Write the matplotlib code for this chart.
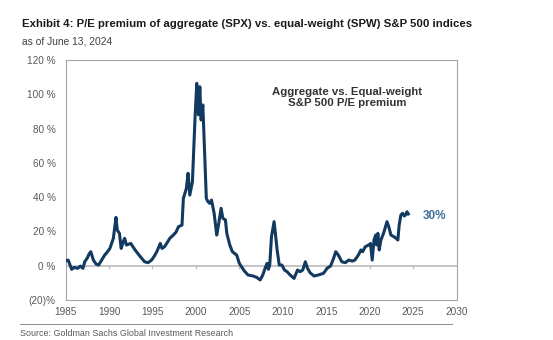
import matplotlib
matplotlib.use("Agg")
import matplotlib.pyplot as plt
from matplotlib.lines import Line2D

plt.rcParams['font.family'] = ['Liberation Sans', 'DejaVu Sans']

# P/E premium of SPX vs SPW (%)
years = [
    1985.0, 1985.3, 1985.7, 1986.0, 1986.4, 1986.7, 1987.0, 1987.2, 1987.5,
    1987.7, 1987.9, 1988.2, 1988.5, 1988.8, 1989.1, 1989.5, 1989.8, 1990.1,
    1990.5, 1990.8, 1990.95, 1991.2, 1991.4, 1991.6, 1991.8, 1992.0, 1992.5,
    1993.0, 1993.6, 1994.1, 1994.5, 1994.9, 1995.2, 1995.5, 1995.9, 1996.1,
    1996.4, 1996.7, 1997.0, 1997.4, 1997.7, 1998.0, 1998.4, 1998.56, 1998.9,
    1999.1, 1999.3, 1999.6, 1999.9, 2000.1, 2000.2, 2000.3, 2000.45, 2000.6,
    2000.8, 2001.0, 2001.2, 2001.4, 2001.6, 2001.8, 2002.1, 2002.4, 2002.6,
    2002.9, 2003.1, 2003.4, 2003.56, 2003.9, 2004.2, 2004.7, 2005.0, 2005.55,
    2006.0, 2006.6, 2007.0, 2007.4, 2007.7, 2008.0, 2008.2, 2008.35, 2008.5,
    2008.7, 2009.0, 2009.15, 2009.35, 2009.6, 2009.9, 2010.2, 2010.5, 2010.85,
    2011.3, 2011.7, 2012.0, 2012.3, 2012.6, 2012.85, 2013.15, 2013.6, 2014.1,
    2014.7, 2015.1, 2015.5, 2015.85, 2016.1, 2016.4, 2016.8, 2017.2, 2017.6,
    2018.0, 2018.3, 2018.7, 2019.0, 2019.2, 2019.5, 2019.9, 2020.1, 2020.3,
    2020.5, 2020.7, 2020.8, 2020.95, 2021.1, 2021.3, 2021.6, 2022.0, 2022.2,
    2022.45, 2022.8, 2023.05, 2023.25, 2023.4, 2023.6, 2023.8, 2024.0, 2024.2,
    2024.3, 2024.45,
]
premium = [
    2.9, 3.3, -2.1, -1.0, -1.5, -0.2, -1.5, 2.3, 4.5,
    6.8, 8.2, 3.3, 1.0, 0.4, 2.9, 6.2, 8.0, 10.1,
    16.0, 28.2, 20.8, 18.9, 10.1, 13.5, 16.0, 12.1, 13.0,
    9.2, 5.3, 2.3, 1.8, 3.3, 5.5, 8.2, 13.0, 10.1,
    11.1, 13.5, 16.0, 17.9, 19.5, 22.8, 23.7, 39.3, 45.0,
    53.9, 41.2, 49.0, 86.0, 106.4, 95.0, 88.0, 104.4, 85.0,
    93.8, 66.5, 39.3, 37.3, 36.4, 38.3, 30.6, 17.9, 23.7,
    33.5, 27.7, 26.7, 18.9, 12.1, 8.2, 6.2, 1.4, -2.9,
    -5.4, -6.0, -6.8, -8.3, -5.4, -1.0, 1.4, -2.1, 0.4,
    16.9, 25.7, 18.9, 9.2, 0.4, 0.4, -2.5, -3.5, -5.4,
    -7.4, -2.5, -3.5, -2.5, 2.3, -1.5, -4.1, -6.0, -5.4,
    -4.4, -1.5, -0.2, 4.3, 8.2, 6.2, 2.3, 1.8, 3.3,
    2.7, 3.3, 6.2, 9.2, 8.2, 11.1, 12.1, 13.0, 3.3,
    15.0, 17.9, 12.1, 18.9, 9.2, 15.0, 18.9, 25.7, 22.8,
    17.9, 16.9, 16.0, 15.0, 23.7, 29.6, 30.6, 29.0, 30.2,
    31.5, 30.2,
]
x_ticks = list(range(1985, 2031, 5))
y_ticks = [-20, 0, 20, 40, 60, 80, 100, 120]
y_labels = ['(20)%', '0 %', '20 %', '40 %', '60 %', '80 %', '100 %', '120 %']
last_label = '30%'

navy = '#12395f'
grey_txt = '#595959'

fig = plt.figure(figsize=(5.53, 3.40), dpi=100)
ax = fig.add_axes([0.1186, 0.1176, 0.7069, 0.7059])

ax.axhline(0, color='#bfbfbf', lw=1.3, zorder=1)
ax.vlines(x_ticks[1:-1], -1.8, 0, color='#bfbfbf', lw=0.9, zorder=1)
ax.plot(years, premium, color=navy, lw=2.2, solid_joinstyle='round', zorder=3)

ax.set_xlim(1985, 2030)
ax.set_ylim(-20, 120)
ax.set_xticks(x_ticks)
ax.set_xticklabels([str(y) for y in x_ticks])
ax.set_yticks(y_ticks)
ax.set_yticklabels(y_labels)
ax.tick_params(axis='both', length=0, labelsize=7.2, colors=grey_txt)
ax.tick_params(axis='x', pad=5)
ax.tick_params(axis='y', pad=7)
for sp in ax.spines.values():
    sp.set_color('#a6a6a6')
    sp.set_linewidth(0.8)

ax.text(2017.4, 98, 'Aggregate vs. Equal-weight\nS&P 500 P/E premium',
        ha='center', va='center', fontsize=8.2, fontweight='bold',
        color='#333333', linespacing=1.1)
ax.text(years[-1] + 1.7, premium[-1] - 1, last_label, ha='left', va='center',
        fontsize=8.5, fontweight='bold', color='#41709c')

fig.text(22 / 553, 1 - 24 / 340,
         'Exhibit 4: P/E premium of aggregate (SPX) vs. equal-weight (SPW) S&P 500 indices',
         ha='left', va='center', fontsize=8.2, fontweight='bold', color='#1a1a1a')
fig.text(22 / 553, 1 - 41 / 340, 'as of June 13, 2024', ha='left', va='center',
         fontsize=7.4, color='#404040')

fig.add_artist(Line2D([20 / 553, 452 / 553], [1 - 324 / 340, 1 - 324 / 340],
                      color='#8c8c8c', lw=0.7))
fig.text(20 / 553, 1 - 334 / 340, 'Source: Goldman Sachs Global Investment Research',
         ha='left', va='center', fontsize=6.4, color='#595959')

fig.savefig('out.png', dpi=100)
